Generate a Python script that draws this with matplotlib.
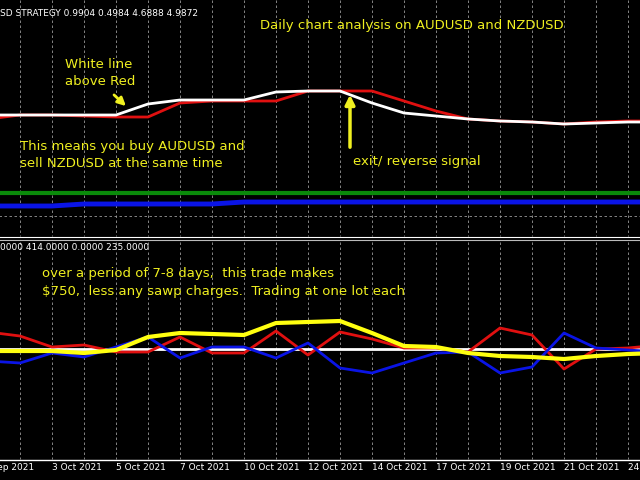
import matplotlib
matplotlib.use("Agg")
import matplotlib.pyplot as plt
import numpy as np

bars = np.arange(-1, 21)
dates = ["30 Sep 2021", "1 Oct 2021", "3 Oct 2021", "4 Oct 2021", "5 Oct 2021", "6 Oct 2021",
         "7 Oct 2021", "8 Oct 2021", "10 Oct 2021", "11 Oct 2021", "12 Oct 2021", "13 Oct 2021",
         "14 Oct 2021", "15 Oct 2021", "17 Oct 2021", "18 Oct 2021", "19 Oct 2021", "20 Oct 2021",
         "21 Oct 2021", "22 Oct 2021", "24 Oct 2021", "25 Oct 2021"]
label_bars = [-1, 1, 3, 5, 7, 9, 11, 13, 15, 17, 19]

# upper panel (screen units, y down)
white_top = [115, 115, 115, 115, 115, 104, 100, 100, 100, 92, 91, 91, 103, 113, 116, 119, 121, 122, 124, 123, 122, 122]
red_top = [119, 115, 115, 116, 117, 117, 103, 101, 101, 101, 91, 91, 91, 101, 111, 119, 121, 122, 124, 122, 121, 121]
green_top = [193] * 22
blue_top = [206, 206, 206, 204, 204, 204, 204, 204, 202, 202, 202, 202, 202, 202, 202, 202, 202, 202, 202, 202, 202, 202]

# lower panel
red_low = [332, 336, 347, 345, 352, 352, 337, 353, 353, 331, 355, 332, 339, 348, 348, 352, 328, 335, 369, 349, 348, 345]
blue_low = [361, 363, 353, 357, 347, 337, 358, 347, 347, 358, 343, 368, 373, 363, 353, 352, 373, 367, 333, 348, 350, 352]
yellow_low = [351, 351, 351, 353, 350, 337, 333, 334, 335, 323, 322, 321, 333, 346, 347, 353, 356, 357, 359, 356, 354, 353]
zero_low = 349

fig = plt.figure(figsize=(6.4, 4.8), dpi=100, facecolor="black")
ax = fig.add_axes([0, 0, 1, 1])
ax.set_facecolor("black")
ax.set_xlim(-0.625, 19.375)
ax.set_ylim(480, 0)
ax.axis("off")

for b in bars:
    ax.plot([b, b], [0, 236], color="#9a9a9a", lw=0.6, ls=(0, (3, 3)))
    ax.plot([b, b], [242, 459], color="#9a9a9a", lw=0.6, ls=(0, (3, 3)))
ax.plot([-1, 21], [216, 216], color="#9a9a9a", lw=0.6, ls=(0, (3, 3)))
ax.plot([-1, 21], [237, 237], color="white", lw=0.8)
ax.plot([-1, 21], [240, 240], color="#bbbbbb", lw=0.8)
ax.plot([-1, 21], [460, 460], color="white", lw=1.0)

ax.plot(bars, green_top, color="#0a8a0a", lw=3)
ax.plot(bars, blue_top, color="#0a14e6", lw=3.5)
ax.plot(bars, red_top, color="#e01010", lw=2)
ax.plot(bars, white_top, color="white", lw=2)

ax.plot([-1, 21], [zero_low, zero_low], color="white", lw=2)
ax.plot(bars, red_low, color="#e01010", lw=2)
ax.plot(bars, blue_low, color="#0a14e6", lw=2)
ax.plot(bars, yellow_low, color="#ffff10", lw=3)

for b in label_bars:
    ax.text(b - (0.35 if b == -1 else 0.0), 467, dates[b + 1], color="white", fontsize=6.5,
            ha="left", va="center")

ax.text(-0.625, 13, "SD STRATEGY 0.9904 0.4984 4.6888 4.9872", color="white", fontsize=6.5, va="center")
ax.text(-0.625, 248, "0000 414.0000 0.0000 235.0000", color="white", fontsize=6.5, va="center")

Y = "#f0f020"
def px(x):
    return -0.625 + x / 32.0
fs = 9.5
ax.text(px(260), 25, "Daily chart analysis on AUDUSD and NZDUSD", color=Y, fontsize=fs, va="center")
ax.text(px(65), 73, "White line\nabove Red", color=Y, fontsize=fs, va="center", linespacing=1.4)
ax.text(px(20), 155, "This means you buy AUDUSD and\nsell NZDUSD at the same time", color=Y, fontsize=fs,
        va="center", linespacing=1.4)
ax.text(px(353), 162, "exit/ reverse signal", color=Y, fontsize=fs, va="center")
ax.text(px(42), 282, "over a period of 7-8 days,  this trade makes\n$750,  less any sawp charges.  Trading at one lot each",
        color=Y, fontsize=fs, va="center", linespacing=1.5)
ax.annotate("", xy=(px(128), 108), xytext=(px(112), 93),
            arrowprops=dict(arrowstyle="-|>", color=Y, lw=2, mutation_scale=12))
ax.annotate("", xy=(px(350), 92), xytext=(px(350), 150),
            arrowprops=dict(arrowstyle="-|>", color=Y, lw=2.5, mutation_scale=14))

fig.savefig("out.png", dpi=100, facecolor="black")
